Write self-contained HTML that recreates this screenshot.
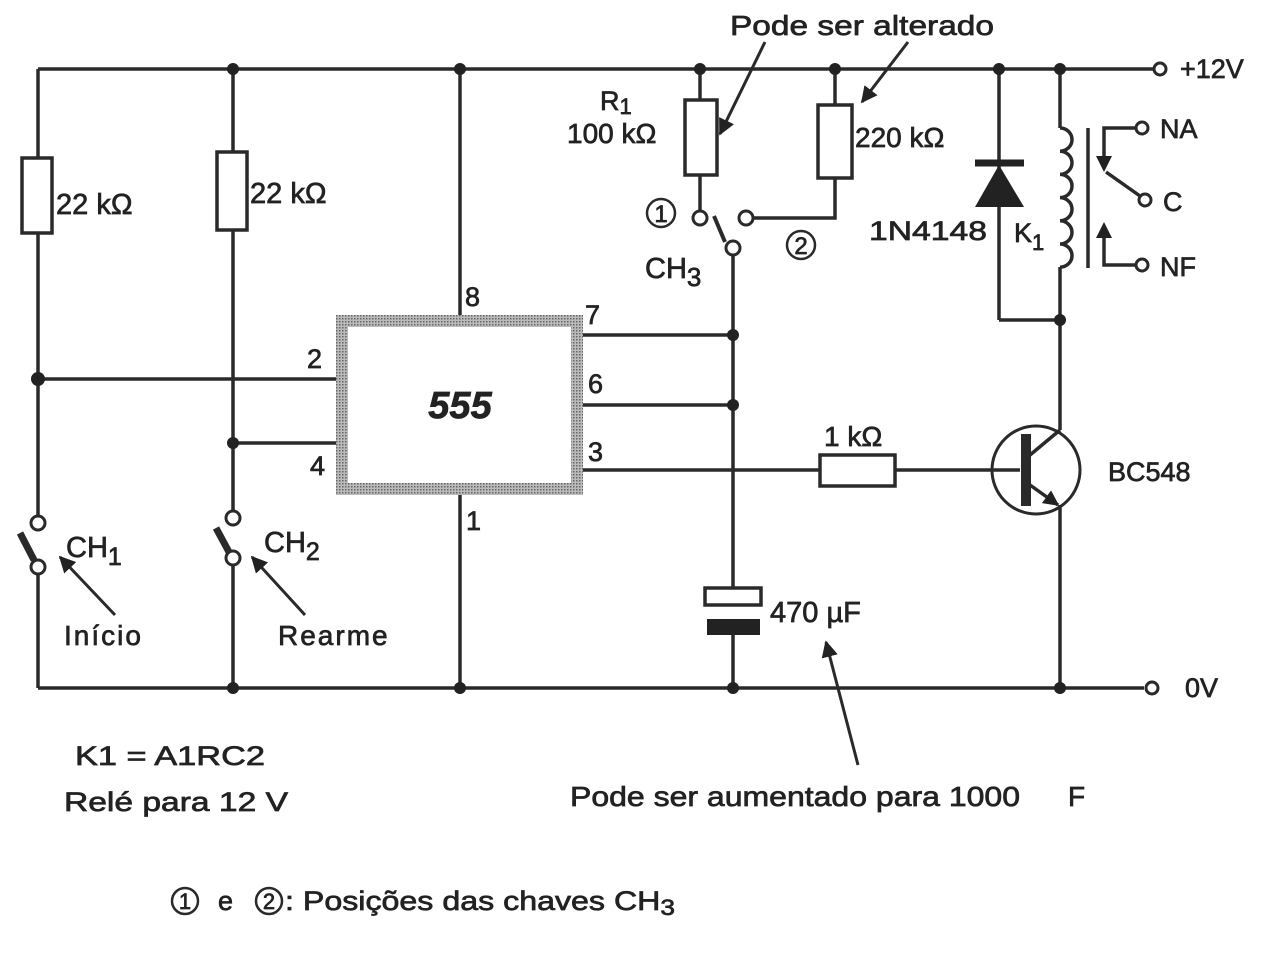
<!DOCTYPE html>
<html><head><meta charset="utf-8"><style>
html,body{margin:0;padding:0;background:#fff;}
svg{display:block;}
text{font-family:"Liberation Sans",Arial,sans-serif;fill:#222;stroke:#222;stroke-width:0.7;}
</style></head><body>
<svg width="1276" height="965" viewBox="0 0 1276 965" xmlns="http://www.w3.org/2000/svg">
<defs>
<pattern id="dots" width="3" height="3" patternUnits="userSpaceOnUse">
<rect width="3" height="3" fill="#bbb"/><rect width="1.5" height="1.5" fill="#666"/>
</pattern>
<marker id="ah" viewBox="0 0 10 10" refX="9" refY="5" markerWidth="5.5" markerHeight="5.5" orient="auto-start-reverse">
<path d="M0,0 L10,5 L0,10 z" fill="#222"/></marker>
<marker id="ah2" viewBox="0 0 10 10" refX="9" refY="5" markerWidth="4.5" markerHeight="4.5" orient="auto-start-reverse">
<path d="M0,0 L10,5 L0,10 z" fill="#222"/></marker>
</defs>
<g stroke="#2a2a2a" stroke-width="3.5" fill="none">
<line x1="38" y1="69" x2="1154" y2="69"/>
<line x1="38" y1="688" x2="1144" y2="688"/>
<line x1="38" y1="69" x2="38" y2="158"/>
<line x1="38" y1="233" x2="38" y2="516"/>
<line x1="38" y1="574" x2="38" y2="688"/>
<line x1="233" y1="69" x2="233" y2="152"/>
<line x1="233" y1="230" x2="233" y2="511"/>
<line x1="233" y1="565" x2="233" y2="688"/>
<line x1="38" y1="379" x2="336" y2="379"/>
<line x1="233" y1="443" x2="336" y2="443"/>
<line x1="460" y1="69" x2="460" y2="315"/>
<line x1="460" y1="495" x2="460" y2="688"/>
<line x1="583" y1="335" x2="733" y2="335"/>
<line x1="583" y1="405" x2="733" y2="405"/>
<line x1="583" y1="470" x2="820" y2="470"/>
<line x1="895" y1="470" x2="1020" y2="470"/>
<line x1="733" y1="255" x2="733" y2="588"/>
<line x1="733" y1="635" x2="733" y2="688"/>
<line x1="700" y1="69" x2="700" y2="100"/>
<line x1="700" y1="175" x2="700" y2="211"/>
<line x1="835" y1="69" x2="835" y2="105"/>
<polyline points="835,178 835,218 753,218"/>
<line x1="999" y1="69" x2="999" y2="320"/>
<line x1="999" y1="320" x2="1060" y2="320"/>
<line x1="1060" y1="69" x2="1060" y2="128"/>
<path d="M1060,128 a12,11.6 0 0 1 0,23.2 a12,11.6 0 0 1 0,23.2 a12,11.6 0 0 1 0,23.2 a12,11.6 0 0 1 0,23.2 a12,11.6 0 0 1 0,23.2 a12,11.6 0 0 1 0,23.2"/>
<line x1="1060" y1="267" x2="1060" y2="430"/>
<line x1="1060" y1="505" x2="1060" y2="688"/>
<line x1="1088" y1="128" x2="1088" y2="268"/>
<polyline points="1136,128 1104,128 1104,160"/>
<line x1="1106" y1="172" x2="1140" y2="196"/>
<polyline points="1136,265 1104,265 1104,232"/>
<circle cx="1036" cy="470" r="44" stroke-width="3"/>
<line x1="1026" y1="434" x2="1026" y2="506" stroke-width="10"/>
<line x1="1030" y1="455" x2="1060" y2="430"/>
<line x1="1030" y1="485" x2="1058" y2="505" marker-end="url(#ah2)"/>
<rect x="22" y="158" width="30" height="75" fill="#fff"/>
<rect x="217" y="152" width="30" height="78" fill="#fff"/>
<rect x="685" y="100" width="32" height="75" fill="#fff"/>
<rect x="818" y="105" width="34" height="73" fill="#fff"/>
<rect x="820" y="455" width="75" height="31" fill="#fff"/>
<rect x="705" y="588" width="56" height="17" fill="#fff"/>
<circle cx="1160" cy="69" r="6" fill="#fff" stroke-width="3"/>
<circle cx="1152" cy="688" r="6" fill="#fff" stroke-width="3"/>
<circle cx="1142" cy="128" r="6" fill="#fff" stroke-width="3"/>
<circle cx="1145" cy="200" r="6" fill="#fff" stroke-width="3"/>
<circle cx="1142" cy="265" r="6" fill="#fff" stroke-width="3"/>
<circle cx="38" cy="523" r="7" fill="#fff" stroke-width="3"/>
<circle cx="38" cy="567" r="7" fill="#fff" stroke-width="3"/>
<line x1="20" y1="533" x2="34" y2="560" stroke-width="7"/>
<circle cx="233" cy="518" r="7" fill="#fff" stroke-width="3"/>
<circle cx="233" cy="558" r="7" fill="#fff" stroke-width="3"/>
<line x1="216" y1="528" x2="229" y2="552" stroke-width="7"/>
<circle cx="700" cy="218" r="7" fill="#fff" stroke-width="3"/>
<circle cx="733" cy="248" r="7" fill="#fff" stroke-width="3"/>
<circle cx="746" cy="218" r="7" fill="#fff" stroke-width="3"/>
<line x1="714" y1="216" x2="725" y2="242" stroke-width="4"/>
<line x1="765" y1="42" x2="720" y2="134" stroke-width="3" marker-end="url(#ah)"/>
<line x1="908" y1="42" x2="862" y2="102" stroke-width="3" marker-end="url(#ah)"/>
<line x1="115" y1="615" x2="60" y2="557" stroke-width="3" marker-end="url(#ah)"/>
<line x1="305" y1="615" x2="252" y2="557" stroke-width="3" marker-end="url(#ah)"/>
<line x1="858" y1="765" x2="826" y2="642" stroke-width="3" marker-end="url(#ah)"/>
<!-- circled number outlines -->
<circle cx="661" cy="213" r="14" stroke-width="2.5"/>
<circle cx="801" cy="245" r="14" stroke-width="2.5"/>
<circle cx="185" cy="901" r="13" stroke-width="2.5"/>
<circle cx="269" cy="901" r="13" stroke-width="2.5"/>
</g>
<rect x="707" y="619" width="53" height="16" fill="#222"/>
<line x1="975" y1="163" x2="1024" y2="163" stroke="#222" stroke-width="7"/>
<polygon points="999,165 975,207 1024,207" fill="#222"/>
<polygon points="1104,172 1096,156 1112,156" fill="#222"/>
<polygon points="1104,222 1096,238 1112,238" fill="#222"/>
<rect x="336" y="315" width="247" height="180" fill="url(#dots)"/>
<polygon points="348,327 571,327 571,483 348,483" fill="#fff"/>
<text x="460" y="418" font-size="38" font-weight="bold" font-style="italic" text-anchor="middle">555</text>
<g fill="#222">
<circle cx="233" cy="69" r="6"/><circle cx="460" cy="69" r="6"/><circle cx="700" cy="69" r="6"/>
<circle cx="835" cy="69" r="6"/><circle cx="999" cy="69" r="6"/><circle cx="1060" cy="69" r="6"/>
<circle cx="38" cy="379" r="7"/><circle cx="233" cy="443" r="6"/>
<circle cx="733" cy="335" r="6"/><circle cx="733" cy="405" r="6"/><circle cx="1060" cy="320" r="6"/>
<circle cx="233" cy="688" r="6"/><circle cx="460" cy="688" r="6"/><circle cx="733" cy="688" r="6"/><circle cx="1060" cy="688" r="6"/>
</g>
<g font-size="27">
<text x="56" y="214" font-size="29">22 kΩ</text>
<text x="250" y="203" font-size="29">22 kΩ</text>
<text x="600" y="110">R<tspan font-size="22" dy="4">1</tspan></text>
<text x="567" y="143" font-size="28">100 kΩ</text>
<text x="855" y="147" font-size="28">220 kΩ</text>
<text x="645" y="278" font-size="29">CH<tspan dy="8" font-size="26">3</tspan></text>
<text x="661" y="222" font-size="24" text-anchor="middle">1</text>
<text x="801" y="254" font-size="24" text-anchor="middle">2</text>
<text x="869" y="240" textLength="118" lengthAdjust="spacingAndGlyphs">1N4148</text>
<text x="1014" y="242">K<tspan font-size="22" dy="8">1</tspan></text>
<text x="1160" y="138">NA</text>
<text x="1163" y="211">C</text>
<text x="1160" y="276">NF</text>
<text x="1180" y="78">+12V</text>
<text x="1185" y="697">0V</text>
<text x="1108" y="481">BC548</text>
<text x="824" y="446" font-size="28">1 kΩ</text>
<text x="770" y="622" font-size="29">470 µF</text>
<text x="307" y="368">2</text>
<text x="310" y="475">4</text>
<text x="465" y="306">8</text>
<text x="466" y="530">1</text>
<text x="585" y="324">7</text>
<text x="588" y="393">6</text>
<text x="588" y="461">3</text>
<text x="66" y="557" font-size="29">CH<tspan font-size="25" dy="8">1</tspan></text>
<text x="264" y="552" font-size="29">CH<tspan font-size="25" dy="8">2</tspan></text>
<text x="64" y="645" letter-spacing="2" font-size="28">Início</text>
<text x="278" y="645" letter-spacing="2" font-size="28">Rearme</text>
<text x="730" y="35" font-size="28" textLength="264" lengthAdjust="spacingAndGlyphs">Pode ser alterado</text>
<text x="570" y="806" font-size="28" textLength="450" lengthAdjust="spacingAndGlyphs">Pode ser aumentado para 1000</text>
<text x="1068" y="806" font-size="28">F</text>
<text x="75" y="765" textLength="190" lengthAdjust="spacingAndGlyphs">K1 = A1RC2</text>
<text x="64" y="811" textLength="224" lengthAdjust="spacingAndGlyphs">Relé para 12 V</text>
<text x="185" y="909" font-size="22" text-anchor="middle">1</text>
<text x="218" y="910">e</text>
<text x="269" y="909" font-size="22" text-anchor="middle">2</text>
<text x="285" y="910" textLength="390" lengthAdjust="spacingAndGlyphs">: Posições das chaves CH<tspan font-size="22" dy="5">3</tspan></text>
</g>
</svg>
</body></html>
